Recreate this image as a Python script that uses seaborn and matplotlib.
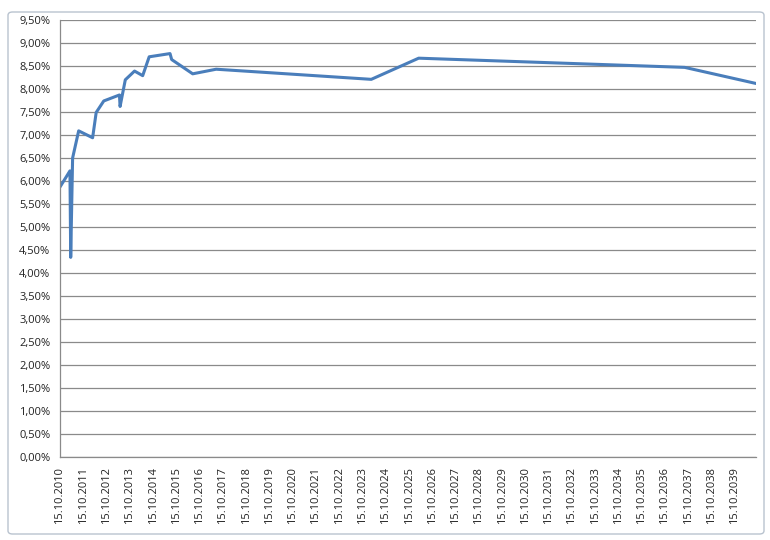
import pandas as pd
import matplotlib.pyplot as plt
import matplotlib.dates as mdates
from matplotlib.ticker import FuncFormatter, MultipleLocator
from matplotlib.patches import FancyBboxPatch
import seaborn as sns

# --- data ---
dates = [
    "2010-10-15", "2011-03-20", "2011-04-01", "2011-05-01", "2011-08-04",
    "2012-03-10", "2012-05-05", "2012-09-01", "2013-05-05", "2013-05-15",
    "2013-08-05", "2013-12-28", "2014-05-05", "2014-08-15", "2015-07-08",
    "2015-08-03", "2016-06-28", "2017-07-01", "2024-03-01", "2026-03-15",
    "2037-08-20", "2040-09-12",
]
rates = [
    5.87, 6.22, 4.34, 6.50, 7.09,
    6.94, 7.49, 7.74, 7.87, 7.62,
    8.20, 8.39, 8.29, 8.70, 8.77,
    8.64, 8.33, 8.43, 8.21, 8.67,
    8.47, 8.12,
]
tick_years = list(range(2010, 2040))

df = pd.DataFrame({"date": pd.to_datetime(dates), "rate": rates})

sns.set_style("white")
plt.rcParams["font.family"] = ["Open Sans", "DejaVu Sans"]

fig = plt.figure(figsize=(7.7, 5.4), dpi=100)
ax = fig.add_axes([60 / 770, 83 / 540, 696 / 770, 437 / 540])

# chart frame like the spreadsheet chart object
fig.patches.append(FancyBboxPatch((8 / 770, 6 / 540), 756 / 770, 522 / 540,
                                  boxstyle="round,pad=0,rounding_size=0.006",
                                  transform=fig.transFigure, fill=False,
                                  edgecolor="#b9c3cf", linewidth=1.0))

sns.lineplot(data=df, x="date", y="rate", ax=ax, color="#4a7ebb",
             linewidth=2.2, sort=False, estimator=None)

ax.set_ylim(0, 9.5)
ax.yaxis.set_major_locator(MultipleLocator(0.5))
ax.yaxis.set_major_formatter(FuncFormatter(lambda v, p: f"{v:.2f}%".replace(".", ",")))
ax.grid(axis="y", color="#8a8a8a", linewidth=0.9)
ax.set_axisbelow(True)

ticks = pd.to_datetime([f"{y}-10-15" for y in tick_years])
ax.set_xticks(ticks)
ax.set_xticklabels([t.strftime("%d.%m.%Y") for t in ticks], rotation=90)
ax.set_xlim(df["date"].iloc[0], df["date"].iloc[-1])

for s in ["top", "right"]:
    ax.spines[s].set_visible(False)
for s in ["left", "bottom"]:
    ax.spines[s].set_color("#8a8a8a")
    ax.spines[s].set_linewidth(0.9)

ax.tick_params(axis="both", which="major", direction="out", length=4,
               color="#8a8a8a", labelsize=8, labelcolor="#222222")
ax.tick_params(axis="y", pad=3)
ax.tick_params(axis="x", pad=3)
ax.set_xlabel("")
ax.set_ylabel("")

fig.savefig("out.png", dpi=100)
